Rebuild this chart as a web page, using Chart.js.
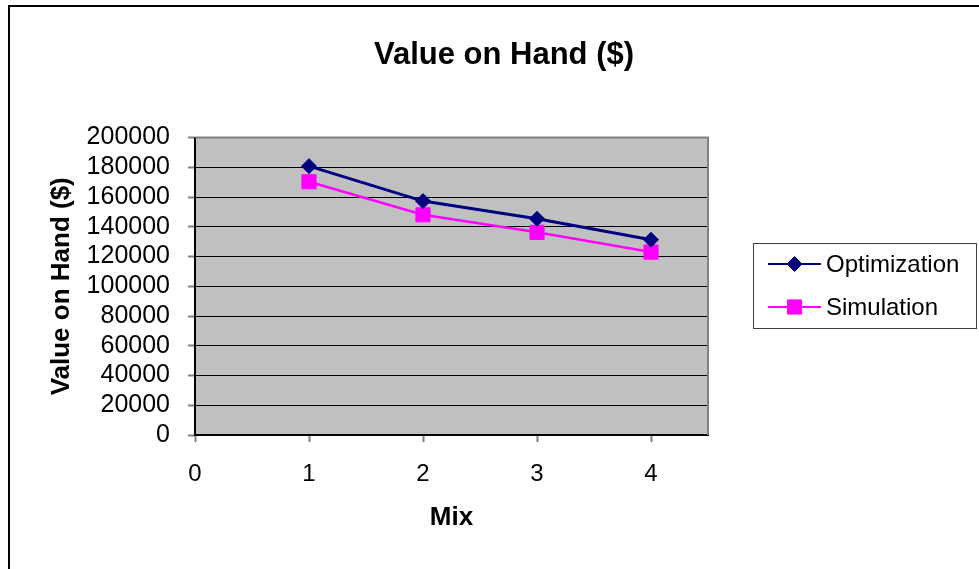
<!DOCTYPE html>
<html>
<head>
<meta charset="utf-8">
<script src="https://cdn.jsdelivr.net/npm/chart.js@4/dist/chart.umd.min.js"></script>
<style>
  html, body { margin: 0; padding: 0; background: #fff; }
  canvas { display: block; }
</style>
</head>
<body>
<canvas id="c" width="979" height="569"></canvas>
<script>
// ---- data ----
const mix = [1, 2, 3, 4];
const optimization = [180800, 157300, 145400, 131300];
const simulation = [170300, 148100, 136300, 123000];
const seriesNames = ['Optimization', 'Simulation'];
const chartTitle = 'Value on Hand ($)';
const yTitle = 'Value on Hand ($)';
const xTitle = 'Mix';

const FONT = '"Liberation Sans", Arial, Helvetica, sans-serif';

// custom layout box reserving room for the legend on the right
const legendBox = {
  position: 'right',
  weight: 0,
  fullSize: false,
  options: {},
  isHorizontal() { return false; },
  update(maxW, maxH) { this.width = 271; this.height = maxH; },
  draw() {}
};

const decorPlugin = {
  id: 'decor',
  beforeInit(chart) { Chart.layouts.addBox(chart, legendBox); },
  beforeDraw(chart) {
    const ctx = chart.ctx, a = chart.chartArea;
    ctx.save();
    ctx.fillStyle = '#fff';
    ctx.fillRect(0, 0, chart.width, chart.height);
    // outer frame (left and top edges visible)
    ctx.fillStyle = '#000';
    ctx.fillRect(8, 5, 2, chart.height);
    ctx.fillRect(8, 5, chart.width, 2);
    // plot background
    ctx.fillStyle = '#C0C0C0';
    ctx.fillRect(a.left, a.top, a.right - a.left, a.bottom - a.top);
    ctx.restore();
  },
  beforeDatasetsDraw(chart) {
    const ctx = chart.ctx, a = chart.chartArea;
    ctx.save();
    ctx.strokeStyle = '#808080';
    ctx.lineWidth = 2;
    ctx.beginPath();
    ctx.moveTo(a.left, a.top);
    ctx.lineTo(a.right, a.top);
    ctx.lineTo(a.right, a.bottom);
    ctx.stroke();
    ctx.restore();
  },
  afterDraw(chart) {
    const ctx = chart.ctx;
    const bx = 753, by = 243, bw = 223, bh = 85;
    ctx.save();
    ctx.strokeStyle = '#404040';
    ctx.lineWidth = 1;
    ctx.strokeRect(bx + 0.5, by + 0.5, bw, bh);
    const rows = [264, 307];
    chart.data.datasets.forEach((ds, i) => {
      const y = rows[i];
      ctx.strokeStyle = ds.borderColor;
      ctx.lineWidth = 2;
      ctx.beginPath();
      ctx.moveTo(768, y);
      ctx.lineTo(821, y);
      ctx.stroke();
      ctx.fillStyle = ds.pointBackgroundColor;
      ctx.strokeStyle = ds.pointBorderColor;
      ctx.lineWidth = 1;
      Chart.helpers.drawPoint(ctx, {
        pointStyle: ds.pointStyle, rotation: 0,
        radius: ds.pointRadius, borderWidth: 1
      }, 794.5, y);
      ctx.fillStyle = '#000';
      ctx.font = '24px ' + FONT;
      ctx.textAlign = 'left';
      ctx.textBaseline = 'middle';
      ctx.fillText(ds.label, 826, y + 1);
    });
    ctx.restore();
  }
};

const toPoints = (xs, ys) => xs.map((x, i) => ({ x: x, y: ys[i] }));

new Chart(document.getElementById('c'), {
  type: 'line',
  data: {
    datasets: [
      {
        label: seriesNames[0],
        data: toPoints(mix, optimization),
        borderColor: '#000080',
        backgroundColor: '#000080',
        pointBackgroundColor: '#000080',
        pointBorderColor: '#000080',
        borderWidth: 3,
        pointStyle: 'rectRot',
        pointRadius: 7.5,
        pointBorderWidth: 1,
        tension: 0
      },
      {
        label: seriesNames[1],
        data: toPoints(mix, simulation),
        borderColor: '#FF00FF',
        backgroundColor: '#FF00FF',
        pointBackgroundColor: '#FF00FF',
        pointBorderColor: '#FF00FF',
        borderWidth: 2.5,
        pointStyle: 'rect',
        pointRadius: 10,
        pointBorderWidth: 1,
        tension: 0
      }
    ]
  },
  options: {
    responsive: false,
    animation: false,
    devicePixelRatio: 1,
    layout: { padding: { left: 29, top: 0, right: 0, bottom: 0 } },
    plugins: {
      legend: { display: false },
      tooltip: { enabled: false },
      title: {
        display: true,
        text: chartTitle,
        color: '#000',
        font: { family: FONT, size: 31, weight: 'bold' },
        padding: { top: 37, bottom: 63.4 }
      }
    },
    scales: {
      x: {
        type: 'linear',
        min: 0,
        max: 4.5,
        afterBuildTicks: (s) => { s.ticks = s.ticks.filter(t => Number.isInteger(t.value)); },
        afterFit: (s) => { s.height = 134; },
        ticks: {
          stepSize: 1,
          includeBounds: false,
          autoSkip: false,
          maxRotation: 0,
          color: '#000',
          padding: 18,
          font: { family: FONT, size: 24 },
          callback: (v) => String(v)
        },
        grid: {
          drawOnChartArea: false,
          drawTicks: true,
          tickLength: 7,
          tickColor: '#808080',
          tickWidth: 2
        },
        border: { display: true, color: '#000', width: 2 },
        title: {
          display: true,
          text: xTitle,
          color: '#000',
          font: { family: FONT, size: 26, weight: 'bold' },
          padding: { top: 0, bottom: 36 }
        }
      },
      y: {
        type: 'linear',
        min: 0,
        max: 200000,
        afterFit: (s) => { s.width = 166; },
        ticks: {
          stepSize: 20000,
          autoSkip: false,
          color: '#000',
          padding: 18,
          font: { family: FONT, size: 25 },
          callback: (v) => String(v)
        },
        grid: {
          drawOnChartArea: true,
          color: (c) => (c.tick && c.tick.value === 200000) ? '#808080' : '#000',
          lineWidth: 1,
          tickLength: 7,
          tickColor: '#808080',
          tickWidth: 2
        },
        border: { display: true, color: '#000', width: 2 },
        title: {
          display: true,
          text: yTitle,
          color: '#000',
          font: { family: FONT, size: 26, weight: 'bold' },
          padding: { top: 17, bottom: 0 }
        }
      }
    }
  },
  plugins: [decorPlugin]
});
</script>
</body>
</html>
